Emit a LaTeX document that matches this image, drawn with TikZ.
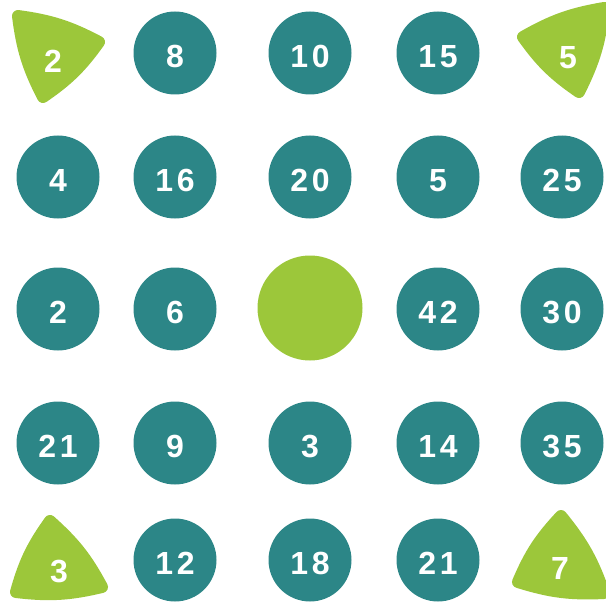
\documentclass[tikz,border=0pt]{standalone}
\usepackage{fontspec}
\newfontfamily\numfont{Liberation Sans Bold}[LetterSpace=12]
\definecolor{numteal}{HTML}{2C8687}
\definecolor{numgreen}{HTML}{9CC73A}
\tikzset{
  num/.style={circle, fill=numteal, minimum size=83pt, inner sep=0pt,
              text=white, text height=29pt, text depth=0pt,
              font=\numfont\fontsize{32}{36}\selectfont},
  bignum/.style={num, fill=numgreen, minimum size=105pt},
  tri/.style={fill=numgreen, draw=numgreen, line width=12pt, line join=round},
  trinum/.style={text=white, inner sep=0pt,
                 font=\numfont\fontsize{32}{36}\selectfont},
}
\begin{document}
\begin{tikzpicture}[x=1pt, y=-1pt]
    \useasboundingbox (0,0) rectangle (606,602);
    % corner triangles
    \draw[tri] (18,16) to[bend left=10] (99,42) to[bend left=10] (43,97) to[bend left=10] cycle;
    \draw[tri] (523,37) to[bend left=10] (604,8) to[bend left=10] (579,92) to[bend left=10] cycle;
    \draw[tri] (50,521) to[bend left=10] (102,587) to[bend left=10] (16,592) to[bend left=10] cycle;
    \draw[tri] (561,516) to[bend left=10] (604,593) to[bend left=10] (518,582) to[bend left=10] cycle;
    \node[trinum] (t1) at (53,61) {2};
    \node[trinum] (t2) at (568,58) {5};
    \node[trinum] (t3) at (59,572) {3};
    \node[trinum] (t4) at (560,568) {7};
    % row 1
    \node[num] (n12) at (175,53) {8};
    \node[num] (n13) at (310,53) {10};
    \node[num] (n14) at (438,53) {15};
    % row 2
    \node[num] (n21) at (58,177) {4};
    \node[num] (n22) at (175,177) {16};
    \node[num] (n23) at (310,177) {20};
    \node[num] (n24) at (438,177) {5};
    \node[num] (n25) at (562,177) {25};
    % row 3
    \node[num] (n31) at (58,309) {2};
    \node[num] (n32) at (175,309) {6};
    \node[bignum] (n33) at (310,308) {};
    \node[num] (n34) at (438,309) {42};
    \node[num] (n35) at (562,309) {30};
    % row 4
    \node[num] (n41) at (58,443) {21};
    \node[num] (n42) at (175,443) {9};
    \node[num] (n43) at (310,443) {3};
    \node[num] (n44) at (438,443) {14};
    \node[num] (n45) at (562,443) {35};
    % row 5
    \node[num] (n52) at (175,560) {12};
    \node[num] (n53) at (310,560) {18};
    \node[num] (n54) at (438,560) {21};
\end{tikzpicture}
\end{document}
